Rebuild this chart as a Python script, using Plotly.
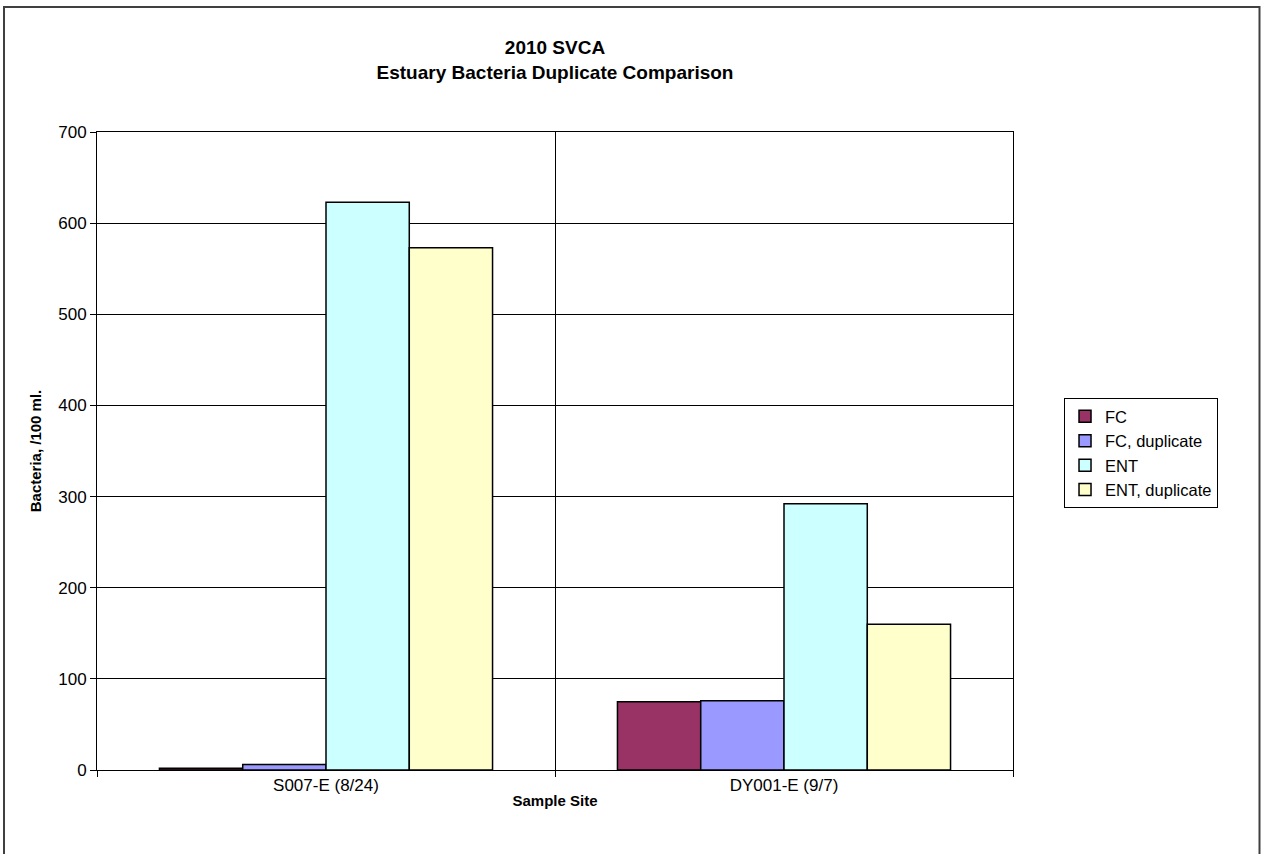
import plotly.graph_objects as go

# Sample sites and bacteria counts (/100 ml)
sites = ["S007-E (8/24)", "DY001-E (9/7)"]
fc = [2, 75]
fc_dup = [6, 76]
ent = [623, 292]
ent_dup = [573, 160]

series = [
    ("FC", fc, "#993366"),
    ("FC, duplicate", fc_dup, "#9999FF"),
    ("ENT", ent, "#CCFFFF"),
    ("ENT, duplicate", ent_dup, "#FFFFCC"),
]

FONT = "Liberation Sans, Arial, sans-serif"

fig = go.Figure()
for name, vals, color in series:
    fig.add_trace(go.Bar(
        x=sites, y=vals, name=name,
        marker=dict(color=color, line=dict(color="black", width=1.5)),
    ))

fig.update_layout(
    width=1262, height=854,
    margin=dict(l=97, r=249, t=132, b=84),
    paper_bgcolor="white", plot_bgcolor="white",
    barmode="group", bargap=0.2727, bargroupgap=0,
    font=dict(family=FONT, size=16, color="black"),
    title=dict(
        text="<b>2010 SVCA<br>Estuary Bacteria Duplicate Comparison</b>",
        x=555 / 1262, xanchor="center", y=1 - 54 / 854, yanchor="top",
        font=dict(family=FONT, size=19, color="black"),
    ),
    legend=dict(
        x=1.0557, y=(770 - 508) / 638, xanchor="left", yanchor="bottom",
        bordercolor="black", borderwidth=1,
        font=dict(family=FONT, size=16.5, color="black"),
        itemwidth=30,
        traceorder="normal",
    ),
    showlegend=True,
)

fig.update_xaxes(
    title=dict(text="<b>Sample Site</b>", font=dict(size=15), standoff=1),
    tickson="boundaries", ticks="outside", ticklen=6, tickcolor="black",
    showgrid=True, gridcolor="black", gridwidth=1,
    showline=True, linecolor="black", linewidth=1, mirror=True,
    tickfont=dict(size=17),
)
fig.update_yaxes(
    title=dict(text="<b>Bacteria, /100 ml.</b>", font=dict(size=15), standoff=12),
    range=[0, 700], dtick=100, ticks="outside", ticklen=6, tickcolor="black",
    showgrid=True, gridcolor="black", gridwidth=1,
    showline=True, linecolor="black", linewidth=1, mirror=True,
    zeroline=False, tickfont=dict(size=17),
)

# Outer chart border
fig.add_shape(
    type="rect", xref="paper", yref="paper",
    x0=(4 - 97) / 916, x1=(1259.5 - 97) / 916,
    y0=(770 - 870) / 638, y1=(770 - 7) / 638,
    line=dict(color="#404040", width=2), fillcolor="rgba(0,0,0,0)",
    layer="below",
)

fig.write_html("out.html")
